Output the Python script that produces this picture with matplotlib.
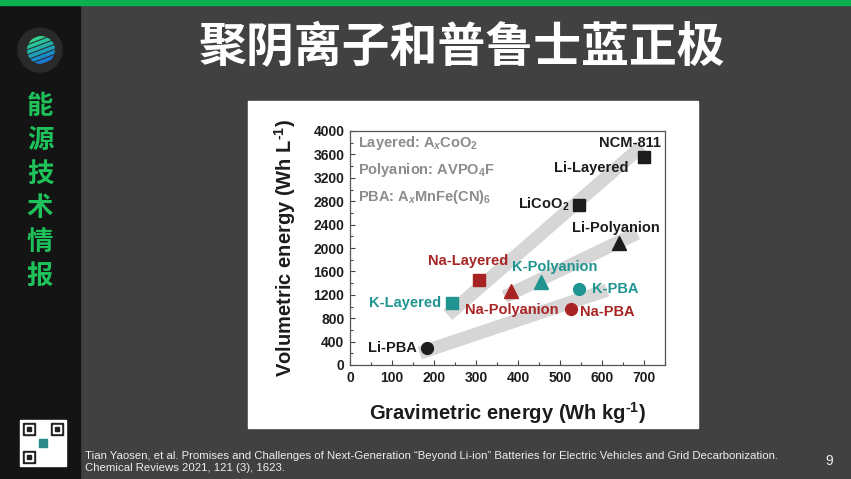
import matplotlib
matplotlib.use('Agg')
import matplotlib.pyplot as plt
from matplotlib.patches import Rectangle, Circle
from matplotlib.ticker import MultipleLocator

plt.rcParams['font.family'] = ['Liberation Sans', 'Noto Sans CJK SC', 'DejaVu Sans']
plt.rcParams['mathtext.fontset'] = 'custom'
plt.rcParams['mathtext.rm'] = 'Liberation Sans:bold'
plt.rcParams['mathtext.bf'] = 'Liberation Sans:bold'
plt.rcParams['mathtext.it'] = 'Liberation Sans:italic:bold'

# ---- data ----
point_names = ['NCM-811', 'LiCoO2', 'Li-Polyanion', 'Li-PBA',
               'Na-Layered', 'Na-Polyanion', 'Na-PBA',
               'K-Layered', 'K-Polyanion', 'K-PBA']
gravimetric = [700, 545, 640, 183, 306, 384, 525, 243, 455, 546]     # Wh/kg
volumetric = [3550, 2740, 2090, 290, 1455, 1270, 955, 1065, 1420, 1300]  # Wh/L
ion = ['Li', 'Li', 'Li', 'Li', 'Na', 'Na', 'Na', 'K', 'K', 'K']
family = ['Layered', 'Layered', 'Polyanion', 'PBA',
          'Layered', 'Polyanion', 'PBA', 'Layered', 'Polyanion', 'PBA']

# trend bands (grav, vol end points)
band_grav = {'Layered': [233, 695], 'Polyanion': [368, 684], 'PBA': [166, 612]}
band_vol = {'Layered': [855, 3740], 'Polyanion': [1167, 2255], 'PBA': [205, 1280]}

legend_lines = [r'Layered: A$_{\mathit{x}}$CoO$_{\mathbf{2}}$',
                r'Polyanion: AVPO$_{\mathbf{4}}$F',
                r'PBA: A$_{\mathit{x}}$MnFe(CN)$_{\mathbf{6}}$']

# ---- styles ----
ion_color = {'Li': '#1c1c1c', 'Na': '#a82424', 'K': '#1f9490'}
family_marker = {'Layered': 's', 'Polyanion': '^', 'PBA': 'o'}
family_size = {'Layered': 8, 'Polyanion': 9.5, 'PBA': 8.5}

# text labels: (text, x, y, ha, colour)
labels = [
    ('NCM-811', 667, 3800, 'center', ion_color['Li']),
    ('Li-Layered', 574, 3370, 'center', ion_color['Li']),
    (r'LiCoO$_{\mathbf{2}}$', 522, 2740, 'right', ion_color['Li']),
    ('Li-Polyanion', 632, 2350, 'center', ion_color['Li']),
    ('Li-PBA', 159, 290, 'right', ion_color['Li']),
    ('Na-Layered', 281, 1780, 'center', ion_color['Na']),
    ('Na-Polyanion', 386, 940, 'center', ion_color['Na']),
    ('Na-PBA', 548, 910, 'left', ion_color['Na']),
    ('K-Layered', 218, 1065, 'right', ion_color['K']),
    ('K-Polyanion', 488, 1680, 'center', ion_color['K']),
    ('K-PBA', 575, 1300, 'left', ion_color['K']),
]

W, H = 851, 479
fig = plt.figure(figsize=(W / 100, H / 100), dpi=100)
fig.patch.set_facecolor('#414141')

# slide background in pixel coordinates
bg = fig.add_axes([0, 0, 1, 1])
bg.set_xlim(0, W)
bg.set_ylim(H, 0)
bg.axis('off')
bg.add_patch(Rectangle((0, 0), 80, H, color='#141414'))
bg.add_patch(Rectangle((0, 0), W, 5, color='#0bb04f'))
bg.add_patch(Rectangle((248, 101), 450, 327, color='white'))

# logo
bg.add_patch(Circle((40, 50), 22, color='#2a2a2a'))
clip = Circle((41, 50), 14, transform=bg.transData)
stripe_cols = ['#2fd08a', '#27c39a', '#22b2ab', '#1ea0bb', '#1a8cc8', '#1879cf']
for k, c in enumerate(stripe_cols):
    yy = 37 + k * 5
    ln, = bg.plot([20, 62], [yy + 8, yy - 8], color=c, lw=2.6,
                  solid_capstyle='butt')
    ln.set_clip_path(clip)

# vertical green title
for k, ch in enumerate('能源技术情报'):
    bg.text(40, 106 + k * 34, ch, color='#1ec15a', fontsize=19,
            fontweight='bold', family=['Noto Sans CJK SC'],
            ha='center', va='center')

# title
bg.text(462, 47, '聚阴离子和普鲁士蓝正极', color='white', fontsize=34.5,
        fontweight='bold', family=['Noto Sans CJK SC'],
        ha='center', va='center')

# qr code placeholder
bg.add_patch(Rectangle((20, 420), 46, 46, color='white'))
for qx, qy in [(23, 423), (51, 423), (23, 451)]:
    bg.add_patch(Rectangle((qx, qy), 12, 12, color='#222222'))
    bg.add_patch(Rectangle((qx + 2, qy + 2), 8, 8, color='white'))
    bg.add_patch(Rectangle((qx + 4, qy + 4), 4, 4, color='#222222'))
bg.add_patch(Rectangle((39, 439), 8, 8, color='#2a8a8a'))

narrow = ['Liberation Sans Narrow', 'Liberation Sans', 'DejaVu Sans']
bg.text(85, 456, 'Tian Yaosen, et al. Promises and Challenges of Next-Generation '
        '\u201cBeyond Li-ion\u201d Batteries for Electric Vehicles and Grid Decarbonization.',
        color='#eeeeee', fontsize=8.2, family=narrow, va='center')
bg.text(85, 468, 'Chemical Reviews 2021, 121 (3), 1623.',
        color='#eeeeee', fontsize=8.2, family=narrow, va='center')
bg.text(829, 461, '9', color='#eeeeee', fontsize=10, va='center', ha='center')

# ---- main chart ----
ax = fig.add_axes([350 / W, (H - 365) / H, 315 / W, 234 / H])
ax.set_facecolor('white')
ax.set_xlim(0, 750)
ax.set_ylim(0, 4000)

for fam in ['Layered', 'Polyanion', 'PBA']:
    ax.plot(band_grav[fam], band_vol[fam], color='#d6d6d6', lw=9.5,
            solid_capstyle='butt', zorder=1)

for i in range(len(point_names)):
    ax.plot(gravimetric[i], volumetric[i], linestyle='none',
            marker=family_marker[family[i]], ms=family_size[family[i]],
            color=ion_color[ion[i]], zorder=3)

for txt, lx, ly, ha, col in labels:
    ax.text(lx, ly, txt, color=col, fontsize=10.5, fontweight='bold',
            ha=ha, va='center', zorder=4)

for k, line in enumerate(legend_lines):
    ax.text(19, 3800 - k * 460, line, color='#8c8c8c', fontsize=10.5,
            fontweight='bold', ha='left', va='center')

ax.xaxis.set_major_locator(MultipleLocator(100))
ax.xaxis.set_minor_locator(MultipleLocator(50))
ax.yaxis.set_major_locator(MultipleLocator(400))
ax.yaxis.set_minor_locator(MultipleLocator(200))
ax.tick_params(which='both', direction='in', top=False, right=False,
               color='#444444', width=0.8)
ax.tick_params(which='major', length=3.5, labelsize=10, pad=4)
ax.tick_params(which='minor', length=2.5)
for lab in ax.get_xticklabels() + ax.get_yticklabels():
    lab.set_fontweight('bold')
    lab.set_color('#1c1c1c')
for sp in ax.spines.values():
    sp.set_color('#555555')
    sp.set_linewidth(0.9)

ax.set_xlabel(r'Gravimetric energy (Wh kg$^{\text{-1}}$)', fontsize=14.5,
              fontweight='bold', color='#1c1c1c')
ax.set_ylabel(r'Volumetric energy (Wh L$^{\text{-1}}$)', fontsize=14.5,
              fontweight='bold', color='#1c1c1c')
ax.xaxis.set_label_coords(0.5, -0.15)
ax.yaxis.set_label_coords(-0.165, 0.5)

fig.savefig('out.png', dpi=100, facecolor=fig.get_facecolor())
